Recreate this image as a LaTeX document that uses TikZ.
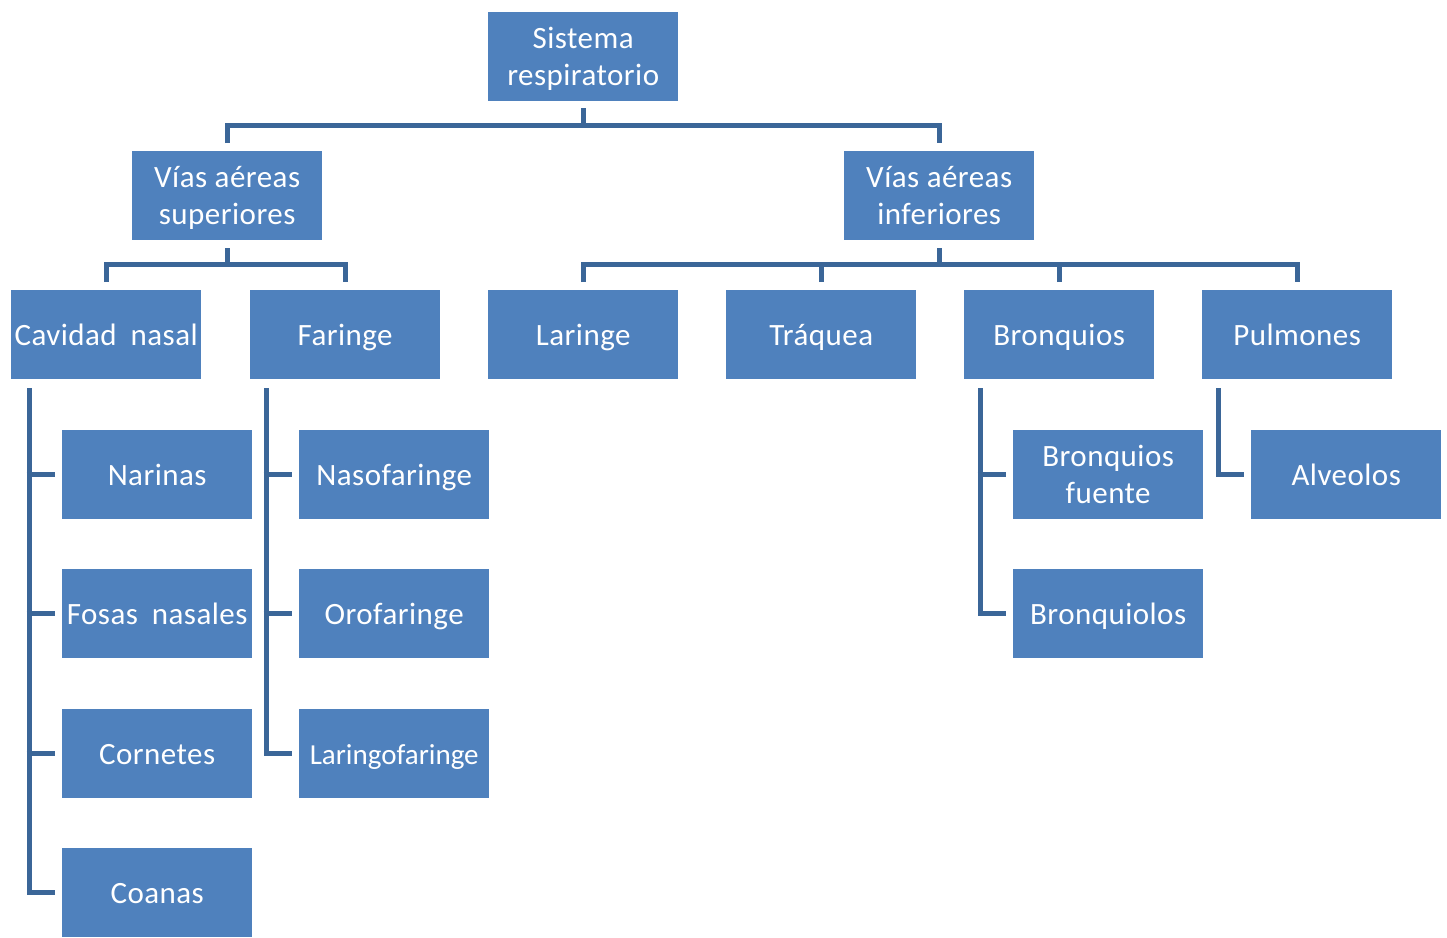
\documentclass[tikz,border=0pt]{standalone}
\usepackage{fontspec}
\setmainfont{Carlito}
\newfontfamily\boxfont[LetterSpace=1.5]{Carlito}
\usetikzlibrary{calc}
\definecolor{boxblue}{HTML}{4F81BD}
\definecolor{lineblue}{HTML}{3B6698}
\newcommand\hst{\rule{0pt}{30pt}}
\newcommand\dst{\rule[-9pt]{0pt}{9pt}}
\begin{document}
\begin{tikzpicture}[x=1pt,y=-1pt,
  box/.style={fill=boxblue, text=white, minimum width=190pt, minimum height=89pt,
    inner sep=0pt, align=center, anchor=north west,
    font=\boxfont\fontsize{31}{37}\selectfont},
  conn/.style={draw=lineblue, line width=5pt, line join=miter}]
\useasboundingbox (0,0) rectangle (1447,937);
\begin{scope}
\clip (0,0) rectangle (1447,937);
% level 1
\node[box] (sr) at (488,12) {\hst Sistema\\respiratorio\dst};
% level 2
\node[box] (vas) at (132,151) {\hst Vías aéreas\\superiores\dst};
\node[box] (vai) at (844,151) {\hst Vías aéreas\\inferiores\dst};
% level 3
\node[box] (cn) at (11,290) {\hst Cavidad\hspace{0.45em}nasal\dst};
\node[box] (fa) at (250,290) {\hst Faringe\dst};
\node[box] (la) at (488,290) {\hst Laringe\dst};
\node[box] (tr) at (726,290) {\hst Tráquea\dst};
\node[box] (br) at (964,290) {\hst Bronquios\dst};
\node[box] (pu) at (1202,290) {\hst Pulmones\dst};
% level 4
\node[box] (na) at (62,430) {\hst Narinas\dst};
\node[box] (fo) at (62,569) {\hst Fosas\hspace{0.45em}nasales\dst};
\node[box] (cr) at (62,709) {\hst Cornetes\dst};
\node[box] (co) at (62,848) {\hst Coanas\dst};
\node[box] (nf) at (299,430) {\hst Nasofaringe\dst};
\node[box] (of) at (299,569) {\hst Orofaringe\dst};
\node[box, font=\rmfamily\fontsize{29}{37}\selectfont] (lf) at (299,709) {\hst Laringofaringe\dst};
\node[box] (bf) at (1013,430) {\hst Bronquios\\fuente\dst};
\node[box] (bl) at (1013,569) {\hst Bronquiolos\dst};
\node[box] (al) at (1251,430) {\hst Alveolos\dst};
% connectors
\coordinate (h1) at (0,125);
\coordinate (h2) at (0,264);
\draw[conn] ($(sr.south)+(0,7)$) -- (sr.south |- h1);
\draw[conn] ($(vas.north)+(0,-8)$) |- (h1 -| vai.north) -- ($(vai.north)+(0,-8)$);
\draw[conn] ($(vas.south)+(0,8)$) -- (vas.south |- h2);
\draw[conn] ($(cn.north)+(0,-8)$) |- (h2 -| fa.north) -- ($(fa.north)+(0,-8)$);
\draw[conn] ($(vai.south)+(0,8)$) -- (vai.south |- h2);
\draw[conn] ($(la.north)+(0,-8)$) |- (h2 -| pu.north) -- ($(pu.north)+(0,-8)$);
\draw[conn] ($(tr.north)+(0,-8)$) -- (tr.north |- h2);
\draw[conn] ($(br.north)+(0,-8)$) -- (br.north |- h2);
% cavidad nasal tree
\draw[conn] ($(cn.south west)+(18,9)$) |- ($(co.west)+(-7,0)$);
\draw[conn] ($(na.west)+(-35.5,0)$) -- ($(na.west)+(-7,0)$);
\draw[conn] ($(fo.west)+(-35.5,0)$) -- ($(fo.west)+(-7,0)$);
\draw[conn] ($(cr.west)+(-35.5,0)$) -- ($(cr.west)+(-7,0)$);
% faringe tree
\draw[conn] ($(fa.south west)+(16,9)$) |- ($(lf.west)+(-7,0)$);
\draw[conn] ($(nf.west)+(-35.5,0)$) -- ($(nf.west)+(-7,0)$);
\draw[conn] ($(of.west)+(-35.5,0)$) -- ($(of.west)+(-7,0)$);
% bronquios tree
\draw[conn] ($(br.south west)+(16,9)$) |- ($(bl.west)+(-7,0)$);
\draw[conn] ($(bf.west)+(-35.5,0)$) -- ($(bf.west)+(-7,0)$);
% pulmones tree
\draw[conn] ($(pu.south west)+(16,9)$) |- ($(al.west)+(-7,0)$);
\end{scope}
\end{tikzpicture}
\end{document}
